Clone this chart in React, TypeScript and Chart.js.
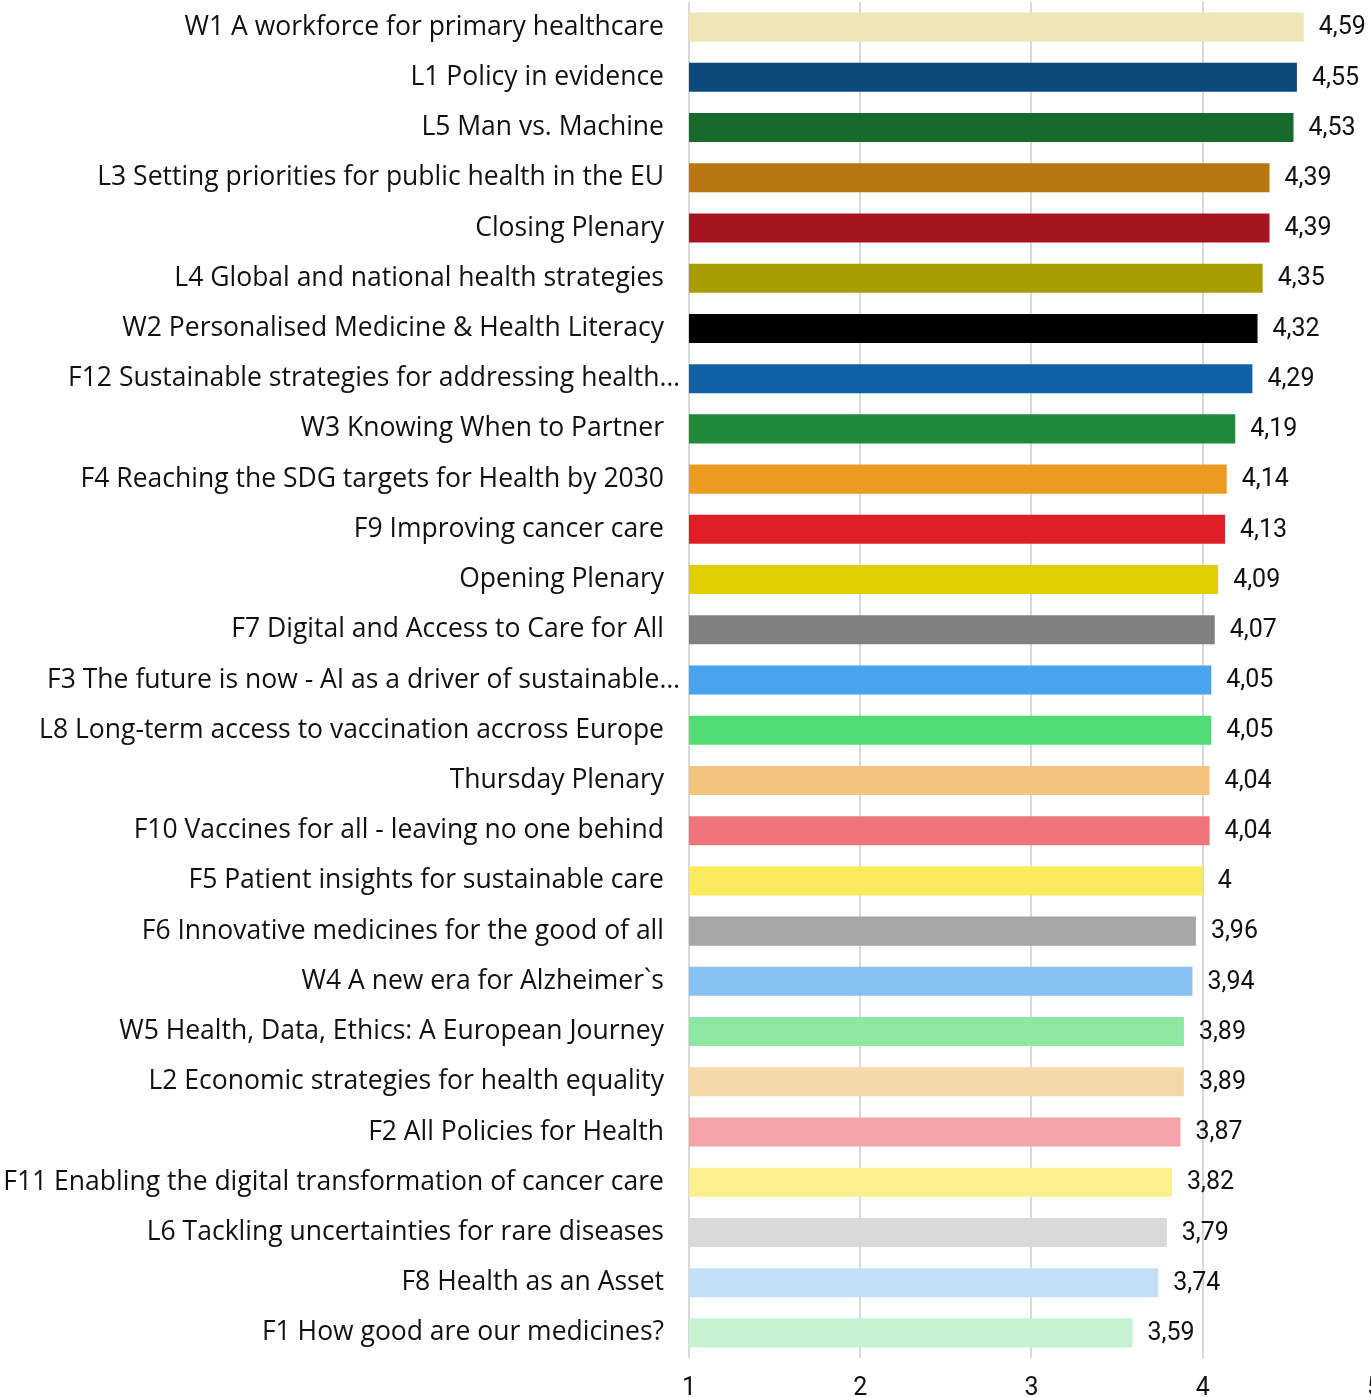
import React, { useEffect, useRef } from "react";
import { Chart, registerables } from "chart.js";

Chart.register(...registerables);

const categories = [
  "W1 A workforce for primary healthcare",
  "L1 Policy in evidence",
  "L5 Man vs. Machine",
  "L3 Setting priorities for public health in the EU",
  "Closing Plenary",
  "L4 Global and national health strategies",
  "W2 Personalised Medicine & Health Literacy",
  "F12 Sustainable strategies for addressing health…",
  "W3 Knowing When to Partner",
  "F4 Reaching the SDG targets for Health by 2030",
  "F9 Improving cancer care",
  "Opening Plenary",
  "F7 Digital and Access to Care for All",
  "F3 The future is now - AI as a driver of sustainable…",
  "L8 Long-term access to vaccination accross Europe",
  "Thursday Plenary",
  "F10 Vaccines for all - leaving no one behind",
  "F5 Patient insights for sustainable care",
  "F6 Innovative medicines for the good of all",
  "W4 A new era for Alzheimer`s",
  "W5 Health, Data, Ethics: A European Journey",
  "L2 Economic strategies for health equality",
  "F2 All Policies for Health",
  "F11 Enabling the digital transformation of cancer care",
  "L6 Tackling uncertainties for rare diseases",
  "F8 Health as an Asset",
  "F1 How good are our medicines?",
];

const values = [
  4.59, 4.55, 4.53, 4.39, 4.39, 4.35, 4.32, 4.29, 4.19, 4.14, 4.13, 4.09, 4.07,
  4.05, 4.05, 4.04, 4.04, 4, 3.96, 3.94, 3.89, 3.89, 3.87, 3.82, 3.79, 3.74, 3.59,
];

const barColors = [
  "#EEE6B6", "#0C4A7C", "#186A2C", "#B87711", "#A51520", "#A89C03", "#000000",
  "#1060A5", "#1E8A3A", "#EA9B20", "#E01E27", "#E0CE00", "#808080", "#4AA3EE",
  "#52DC76", "#F3C57C", "#EE747A", "#FAEB5C", "#A6A6A6", "#86C1F2", "#8EE8A3",
  "#F5D8A8", "#F4A3A8", "#FBF08D", "#D9D9D9", "#C2E0F8", "#C6F3D2",
];

const xTicks = [1, 2, 3, 4, 5];

const CANVAS_W = 1397;
const CANVAS_H = 1420;

export default function App() {
  const ref = useRef<HTMLCanvasElement | null>(null);

  useEffect(() => {
    const canvas = ref.current;
    if (!canvas) return;

    const labelPlugin = {
      id: "labelPlugin",
      afterDatasetsDraw(chart: any) {
        const ctx = chart.ctx;
        const xs = chart.scales.x;
        const ys = chart.scales.y;
        const area = chart.chartArea;
        ctx.save();
        ctx.font = "25px Roboto";
        ctx.fillStyle = "#111111";
        ctx.textAlign = "left";
        ctx.textBaseline = "middle";
        values.forEach((v, i) => {
          const x = xs.getPixelForValue(v);
          const y = ys.getPixelForValue(i);
          ctx.fillText(String(v).replace(".", ","), x + 15, y + 1);
        });
        ctx.font = "26.5px 'Open Sans'";
        ctx.fillStyle = "#111111";
        ctx.textAlign = "right";
        categories.forEach((c, i) => {
          const y = ys.getPixelForValue(i);
          const truncated = c.endsWith("…");
          ctx.fillText(c, area.left - (truncated ? 9 : 25), y);
        });
        ctx.restore();
      },
    };

    const chart = new Chart(canvas, {
      type: "bar",
      data: {
        labels: categories,
        datasets: [
          {
            data: values,
            backgroundColor: barColors,
            borderWidth: 0,
            categoryPercentage: 1,
            barPercentage: 0.578,
          },
        ],
      },
      options: {
        indexAxis: "y",
        animation: false,
        responsive: false,
        devicePixelRatio: 1,
        layout: { padding: { left: 689, top: 2, right: 0, bottom: 0 } },
        plugins: {
          legend: { display: false },
          tooltip: { enabled: false },
        },
        scales: {
          x: {
            min: 1,
            max: 5,
            afterBuildTicks: (scale: any) => {
              scale.ticks = xTicks.map((v) => ({ value: v }));
            },
            border: { display: false },
            grid: {
              color: "#D9D9D9",
              lineWidth: 2,
              drawTicks: false,
            },
            ticks: {
              padding: 16,
              color: "#111111",
              font: { family: "Roboto", size: 25 },
              maxRotation: 0,
            },
          },
          y: {
            display: false,
          },
        },
      },
      plugins: [labelPlugin],
    });

    return () => chart.destroy();
  }, []);

  return (
    <div
      style={{
        position: "fixed",
        left: 0,
        top: 0,
        width: 1371,
        height: 1397,
        overflow: "hidden",
        background: "#ffffff",
      }}
    >
      <canvas
        ref={ref}
        width={CANVAS_W}
        height={CANVAS_H}
        style={{ display: "block", width: CANVAS_W, height: CANVAS_H }}
      />
    </div>
  );
}
